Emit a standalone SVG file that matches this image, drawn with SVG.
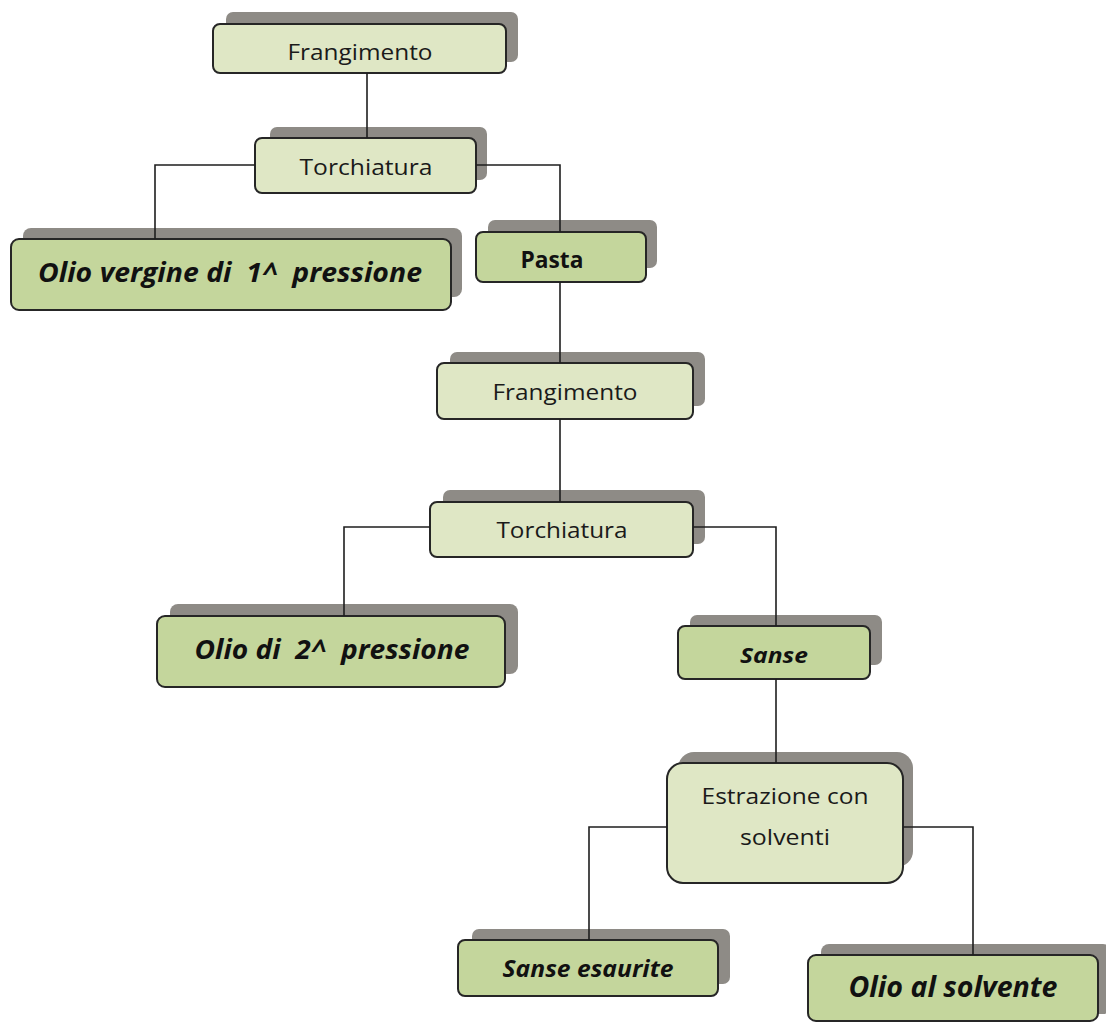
<svg xmlns="http://www.w3.org/2000/svg" width="1106" height="1025" viewBox="0 0 1106 1025">
<style>
.sh{fill:#8e8b86}
.lt{fill:#dfe7c5;stroke:#262626;stroke-width:2}
.dk{fill:#c4d69c;stroke:#262626;stroke-width:2}
.t{font-family:"Open Sans","Liberation Sans",sans-serif;font-size:22px;fill:#1a1a1a;text-anchor:middle}
.b{font-family:"Open Sans","Liberation Sans",sans-serif;font-weight:bold;fill:#111;text-anchor:middle}
.i{font-style:italic}
.c{fill:none;stroke:#1e1e1e;stroke-width:1.6}
</style>
<rect width="1106" height="1025" fill="#fff"/>
<g id="n-frangimento1">
<rect class="sh" x="226" y="12" width="292" height="50" rx="7"/>
<rect class="lt" x="213" y="24" width="293" height="49" rx="7"/>
<text class="t" x="360" y="60" textLength="145" lengthAdjust="spacingAndGlyphs">Frangimento</text>
</g>
<g id="n-torchiatura1">
<rect class="sh" x="270" y="127" width="217" height="53" rx="7"/>
<rect class="lt" x="255" y="138" width="221" height="55" rx="7"/>
<text class="t" x="366" y="175" textLength="133" lengthAdjust="spacingAndGlyphs">Torchiatura</text>
</g>
<g id="n-olio-vergine">
<rect class="sh" x="23" y="228" width="439" height="69" rx="8"/>
<rect class="dk" x="11" y="239" width="440" height="71" rx="8"/>
<text class="b i" x="230" y="282" font-size="26" xml:space="preserve" textLength="384" lengthAdjust="spacingAndGlyphs">Olio vergine di  1^  pressione</text>
</g>
<g id="n-pasta">
<rect class="sh" x="488" y="220" width="169" height="48" rx="7"/>
<rect class="dk" x="476" y="232" width="170" height="50" rx="7"/>
<text class="b" x="552" y="268" font-size="23" textLength="63" lengthAdjust="spacingAndGlyphs">Pasta</text>
</g>
<g id="n-frangimento2">
<rect class="sh" x="450" y="352" width="255" height="54" rx="7"/>
<rect class="lt" x="437" y="363" width="256" height="56" rx="7"/>
<text class="t" x="565" y="400" textLength="145" lengthAdjust="spacingAndGlyphs">Frangimento</text>
</g>
<g id="n-torchiatura2">
<rect class="sh" x="443" y="490" width="262" height="54" rx="7"/>
<rect class="lt" x="430" y="502" width="263" height="55" rx="7"/>
<text class="t" x="562" y="538" textLength="131" lengthAdjust="spacingAndGlyphs">Torchiatura</text>
</g>
<g id="n-olio2">
<rect class="sh" x="170" y="604" width="348" height="70" rx="8"/>
<rect class="dk" x="157" y="616" width="348" height="71" rx="8"/>
<text class="b i" x="332" y="659" font-size="26" xml:space="preserve" textLength="275" lengthAdjust="spacingAndGlyphs">Olio di  2^  pressione</text>
</g>
<g id="n-sanse">
<rect class="sh" x="690" y="615" width="192" height="50" rx="7"/>
<rect class="dk" x="678" y="626" width="192" height="53" rx="7"/>
<text class="b i" x="774" y="663" font-size="22" textLength="68" lengthAdjust="spacingAndGlyphs">Sanse</text>
</g>
<g id="n-estrazione">
<rect class="sh" x="678" y="752" width="235" height="115" rx="16"/>
<rect class="lt" x="667" y="763" width="236" height="120" rx="16"/>
<text class="t" x="785" y="804" textLength="167" lengthAdjust="spacingAndGlyphs">Estrazione con</text>
<text class="t" x="785" y="845" textLength="90" lengthAdjust="spacingAndGlyphs">solventi</text>
</g>
<g id="n-sanse-esaurite">
<rect class="sh" x="472" y="929" width="258" height="55" rx="7"/>
<rect class="dk" x="458" y="940" width="260" height="56" rx="7"/>
<text class="b i" x="588" y="977" font-size="23" textLength="171" lengthAdjust="spacingAndGlyphs">Sanse esaurite</text>
</g>
<g id="n-olio-solvente">
<rect class="sh" x="821" y="944" width="290" height="70" rx="8"/>
<rect class="dk" x="808" y="955" width="290" height="66" rx="8"/>
<text class="b i" x="953" y="997" font-size="28" textLength="209" lengthAdjust="spacingAndGlyphs">Olio al solvente</text>
</g>
<g id="connectors">
<path class="c" d="M367,73 V138"/>
<path class="c" d="M255,165 H155 V239"/>
<path class="c" d="M476,165 H560 V232"/>
<path class="c" d="M560,282 V363"/>
<path class="c" d="M560,419 V502"/>
<path class="c" d="M430,527 H344 V616"/>
<path class="c" d="M693,527 H776 V626"/>
<path class="c" d="M776,679 V763"/>
<path class="c" d="M667,827 H589 V940"/>
<path class="c" d="M903,827 H973 V955"/>
</g>
</svg>
